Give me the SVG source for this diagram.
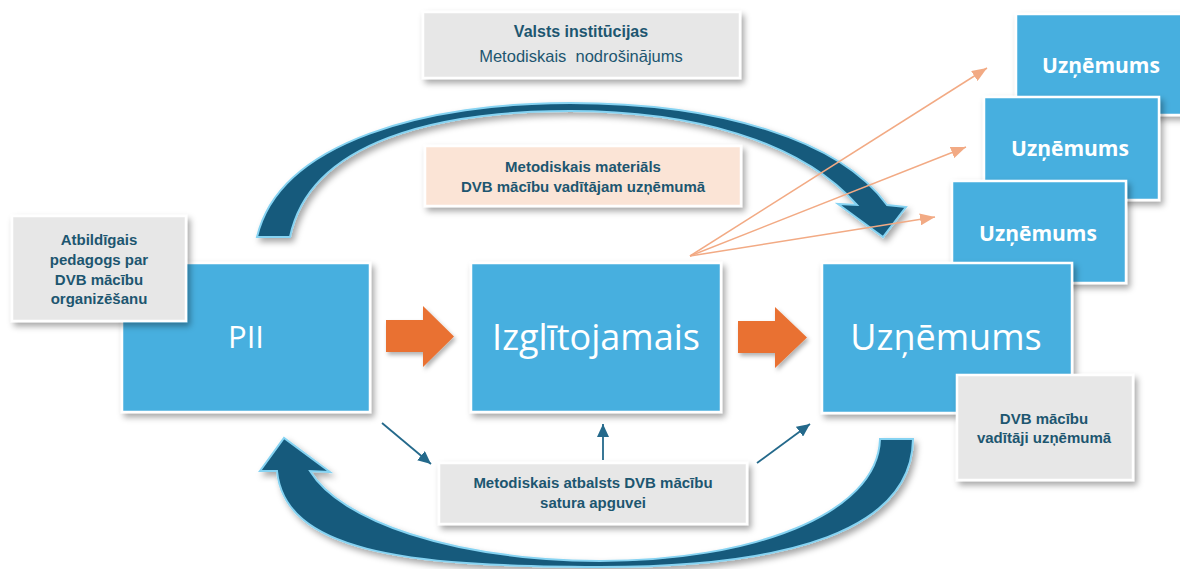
<svg xmlns="http://www.w3.org/2000/svg" width="1180" height="569" viewBox="0 0 1180 569">
<style>
.blue{fill:#47afdf;stroke:#ffffff;stroke-width:2.5;filter:url(#sh)}
.gray{fill:#e7e7e7;stroke:#ffffff;stroke-width:2.5;filter:url(#sh)}
.pink{fill:#fbe4d6;stroke:#ffffff;stroke-width:2.5;filter:url(#sh)}
.lbl{font-family:"Liberation Sans",Arial,sans-serif;font-weight:bold;font-size:15px;fill:#1d5670;text-anchor:middle}
.big{font-family:"Open Sans","Noto Sans",sans-serif;font-size:36px;fill:#ffffff;text-anchor:middle}
.sub{font-family:"Open Sans","Noto Sans",sans-serif;font-weight:bold;font-size:21px;fill:#ffffff;text-anchor:middle}
.curve{fill:#165a7c;stroke:#86d3f2;stroke-width:2;stroke-linejoin:miter;filter:url(#sh)}
.orng{fill:#e97132;filter:url(#sh2)}
.ol{stroke:#f2aa84;stroke-width:1.5;fill:none;marker-end:url(#ao)}
.tl{stroke:#24698b;stroke-width:1.8;fill:none;marker-end:url(#at)}
</style>
<defs>
<filter id="sh" x="-20%" y="-20%" width="140%" height="150%">
<feDropShadow dx="3" dy="4" stdDeviation="3" flood-color="#000" flood-opacity="0.35"/>
</filter>
<filter id="sh2" x="-20%" y="-20%" width="150%" height="150%">
<feDropShadow dx="2" dy="3" stdDeviation="2" flood-color="#000" flood-opacity="0.3"/>
</filter>
<marker id="ao" markerUnits="userSpaceOnUse" markerWidth="16" markerHeight="12" refX="15" refY="6" orient="auto">
<path d="M0,0 L15,6 L0,12 z" fill="#f2aa84"/>
</marker>
<marker id="at" markerUnits="userSpaceOnUse" markerWidth="14" markerHeight="12" refX="13" refY="6" orient="auto">
<path d="M0,0 L13,6 L0,12 z" fill="#24698b"/>
</marker>
</defs>
<rect width="1180" height="569" fill="#ffffff"/>

<g id="connectors">
<path id="arc-top" class="curve" d="M257 237 C280 140 430 103 570 103 C720 103 840 140 887 205 L906 207 L883 237 L838 204 L857 205 C800 140 690 111 570 111 C440 111 310 140 290 237 Z"/>
<path id="arc-bottom" class="curve" d="M913 439 C912 530 790 567 600 567 C400 567 285 550 277 471 L260 471 L284 438 L330 472 L310 471 C340 520 450 560 600 561 C750 561 878 515 880 439 Z"/>
<polygon class="orng" points="386,320 423,320 423,306 454,336.5 423,367 423,352 386,352"/>
<polygon class="orng" points="738,321 775,321 775,307 807,337.5 775,368 775,353 738,353"/>
</g>

<g id="n-top-uznemums-1">
<rect class="blue" x="1016" y="14" width="176" height="101"/>
<text class="sub" x="1101" y="73">Uzņēmums</text>
</g>
<g id="n-top-uznemums-2">
<rect class="blue" x="984" y="97" width="175" height="103"/>
<text class="sub" x="1070" y="156">Uzņēmums</text>
</g>
<g id="n-top-uznemums-3">
<rect class="blue" x="952" y="181" width="174" height="102"/>
<text class="sub" x="1038" y="241">Uzņēmums</text>
</g>

<g id="n-valsts">
<rect class="gray" x="423" y="12" width="317" height="66"/>
<text class="lbl" x="581" y="37" style="font-size:16px">Valsts institūcijas</text>
<text class="lbl" x="581" y="62" style="font-size:16.5px;font-weight:normal;white-space:pre">Metodiskais  nodrošinājums</text>
</g>

<g id="n-materials">
<rect class="pink" x="425" y="146" width="316" height="60"/>
<text class="lbl" x="583" y="172">Metodiskais materiāls</text>
<text class="lbl" x="583" y="192">DVB mācību vadītājam uzņēmumā</text>
</g>

<g id="n-pii">
<rect class="blue" x="122" y="263" width="248" height="149"/>
<text class="big" x="246" y="348" style="font-size:31px">PII</text>
</g>
<g id="n-atbildigais">
<rect class="gray" x="12" y="216" width="174" height="105"/>
<text class="lbl" x="99" y="245">Atbildīgais</text>
<text class="lbl" x="99" y="265">pedagogs par</text>
<text class="lbl" x="99" y="285">DVB mācību</text>
<text class="lbl" x="99" y="304">organizēšanu</text>
</g>

<g id="n-izglitojamais">
<rect class="blue" x="471" y="263" width="250" height="149"/>
<text class="big" x="596" y="350">Izglītojamais</text>
</g>

<g id="n-uznemums">
<rect class="blue" x="822" y="263" width="250" height="150"/>
<text class="big" x="946" y="350">Uzņēmums</text>
</g>
<g id="n-vaditaji">
<rect class="gray" x="957" y="375" width="176" height="105"/>
<text class="lbl" x="1044" y="424">DVB mācību</text>
<text class="lbl" x="1044" y="443">vadītāji uzņēmumā</text>
</g>

<g id="n-atbalsts">
<rect class="gray" x="439" y="463" width="308" height="61"/>
<text class="lbl" x="593" y="488">Metodiskais atbalsts DVB mācību</text>
<text class="lbl" x="593" y="508">satura apguvei</text>
</g>

<g id="connector-lines">
<line class="ol" x1="690" y1="256" x2="987" y2="68"/>
<line class="ol" x1="690" y1="256" x2="966" y2="147"/>
<line class="ol" x1="690" y1="256" x2="935" y2="217"/>
<line class="tl" x1="382" y1="423" x2="431" y2="464"/>
<line class="tl" x1="603" y1="460" x2="603" y2="424"/>
<line class="tl" x1="757" y1="463" x2="810" y2="424"/>
</g>
</svg>
